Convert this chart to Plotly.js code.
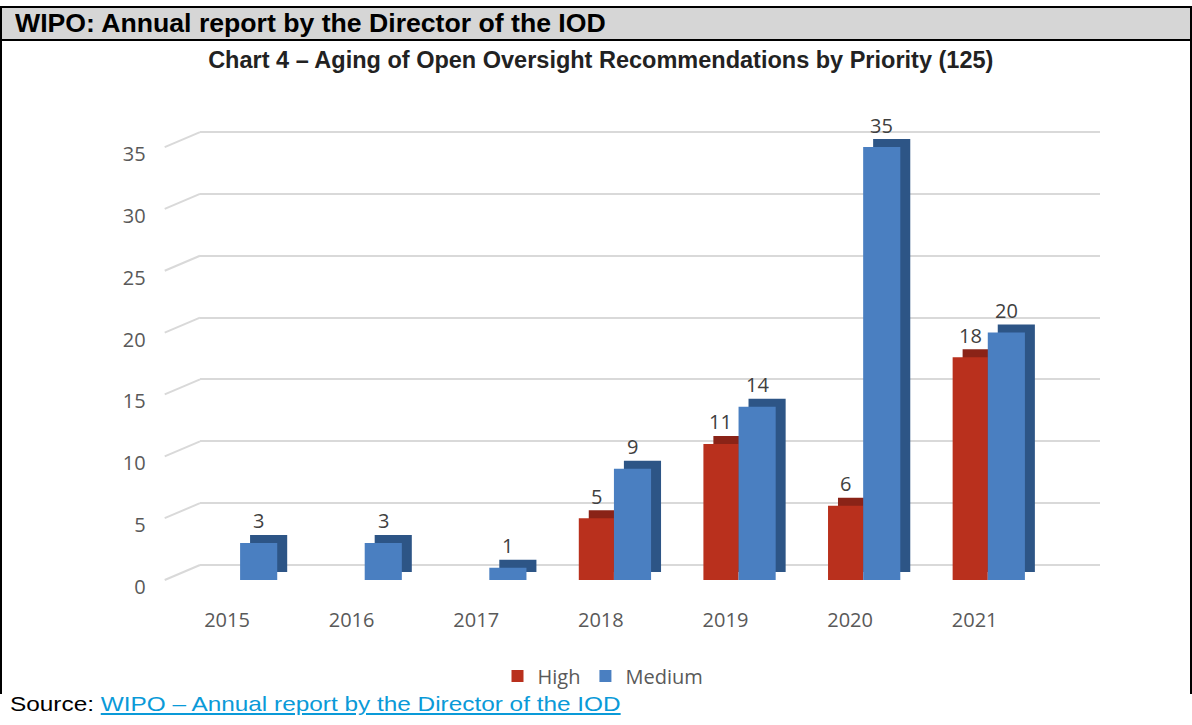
<!DOCTYPE html>
<html>
<head>
<meta charset="utf-8">
<script src="https://cdn.plot.ly/plotly-3.0.1.min.js"></script>
<style>
  html, body { margin:0; padding:0; background:#ffffff; }
  body { width:1192px; height:725px; position:relative; overflow:hidden; font-family:"Liberation Sans", Arial, sans-serif; }
  #chart { position:absolute; left:0; top:0; width:1192px; height:725px; }
  .blk { position:absolute; background:#000; }
  #hdrbg { position:absolute; left:2px; top:8px; width:1188px; height:31px; background:#d6d6d6; }
  #hdr { position:absolute; left:15px; top:11px; font-weight:bold; font-size:25px; line-height:1; color:#000; white-space:nowrap; transform-origin:left top; transform:scaleX(1.065); }
  #src { position:absolute; left:10px; top:693px; font-size:21px; line-height:1; color:#000; white-space:nowrap; transform-origin:left top; transform:scaleX(1.16); }
  #src a { color:#0a9ad8; text-decoration:underline; }
</style>
</head>
<body>
<div id="chart"></div>
<div id="hdrbg"></div>
<div class="blk" style="left:0;top:6px;width:1192px;height:2px;"></div>
<div class="blk" style="left:0;top:39px;width:1192px;height:2px;"></div>
<div class="blk" style="left:0;top:6px;width:2px;height:688px;"></div>
<div class="blk" style="left:1190px;top:6px;width:2px;height:688px;"></div>
<div id="hdr">WIPO: Annual report by the Director of the IOD</div>
<div id="src">Source: <a href="#">WIPO – Annual report by the Director of the IOD</a></div>
<script>
// ---- data ----
const years = ["2015", "2016", "2017", "2018", "2019", "2020", "2021"];
const high = [0, 0, 0, 5, 11, 6, 18];
const medium = [3, 3, 1, 9, 14, 35, 20];
const yTicks = [0, 5, 10, 15, 20, 25, 30, 35];
const chartTitle = "Chart 4 – Aging of Open Oversight Recommendations by Priority (125)";

// ---- style / geometry ----
const W = 1192, H = 725;
const pxPerUnit = 12.37;
const frontBottom = 580, backBottom = 565, plotTop = 100;
const frontLeft = 164.7, frontRight = 1037, backLeft = 200, backRight = 1100;
const depthX = 0.08;              // category units
const depthY = 8 / pxPerUnit;     // value units
const hiOff = -0.177, hiW = 0.282, mdOff = 0.105, mdW = 0.298;
const idx = years.map((_, i) => i);
const labelFont = { family: "Open Sans, sans-serif", size: 20, color: "#595959" };

const traces = [
  { type: "scatter", x: [null], y: [null], xaxis: "x", yaxis: "y", showlegend: false, hoverinfo: "skip" },
  { type: "bar", x: idx, y: high, base: depthY, offset: hiOff + depthX, width: hiW, xaxis: "x2", yaxis: "y2",
    marker: { color: "#8a2317" }, showlegend: false, hoverinfo: "skip" },
  { type: "bar", name: "High", x: idx, y: high, offset: hiOff, width: hiW, xaxis: "x2", yaxis: "y2",
    marker: { color: "#b9301d" } },
  { type: "bar", x: idx, y: medium, base: depthY, offset: mdOff + depthX, width: mdW, xaxis: "x2", yaxis: "y2",
    marker: { color: "#2d5586" }, showlegend: false, hoverinfo: "skip" },
  { type: "bar", name: "Medium", x: idx, y: medium, offset: mdOff, width: mdW, xaxis: "x2", yaxis: "y2",
    marker: { color: "#4a7fc1" } }
];

const annotations = [];
idx.forEach(i => {
  if (high[i] > 0) annotations.push({ x: i + hiOff + hiW / 2, y: high[i], xref: "x2", yref: "y2", text: String(high[i]),
    showarrow: false, yshift: 22, font: { family: "Open Sans, sans-serif", size: 20, color: "#404040" } });
  if (medium[i] > 0) annotations.push({ x: i + mdOff + mdW / 2, y: medium[i], xref: "x2", yref: "y2", text: String(medium[i]),
    showarrow: false, yshift: 22, font: { family: "Open Sans, sans-serif", size: 20, color: "#404040" } });
});

const shapes = yTicks.map(v => ({
  type: "line", xref: "paper", yref: "paper",
  x0: frontLeft / W, x1: backLeft / W,
  y0: (H - (frontBottom - v * pxPerUnit)) / H, y1: (H - (backBottom - v * pxPerUnit)) / H,
  line: { color: "#d9d9d9", width: 2 }, layer: "below"
}));

const layout = {
  width: W, height: H,
  margin: { l: 0, r: 0, t: 0, b: 0 },
  paper_bgcolor: "#ffffff", plot_bgcolor: "rgba(0,0,0,0)",
  barmode: "overlay",
  showlegend: true,
  title: { text: "<b>" + chartTitle + "</b>", x: 0.504, xanchor: "center", y: 1 - 60 / H, yanchor: "middle",
    font: { family: "Liberation Sans, Arial, sans-serif", size: 23.5, color: "#222222" } },
  xaxis: { domain: [backLeft / W, backRight / W], range: [0, 1], visible: false, fixedrange: true },
  yaxis: { domain: [(H - backBottom) / H, (H - plotTop) / H], range: [0, (backBottom - plotTop) / pxPerUnit],
    tickvals: yTicks, showticklabels: false, ticks: "", showgrid: true, gridcolor: "#d9d9d9", gridwidth: 2,
    zeroline: true, zerolinecolor: "#d9d9d9", zerolinewidth: 2, showline: false, fixedrange: true },
  xaxis2: { domain: [frontLeft / W, frontRight / W], range: [-0.5, 6.5], anchor: "y2",
    tickvals: idx, ticktext: years, ticks: "", showgrid: false, zeroline: false, showline: false,
    tickfont: labelFont, ticklabelstandoff: 26, fixedrange: true },
  yaxis2: { domain: [(H - frontBottom) / H, (H - plotTop) / H], range: [0, (frontBottom - plotTop) / pxPerUnit], anchor: "x2",
    tickvals: yTicks, ticks: "", showgrid: false, zeroline: false, showline: false,
    tickfont: labelFont, ticklabelshift: 7, ticklabelstandoff: 18, fixedrange: true },
  legend: { orientation: "h", x: 603 / W, xanchor: "center", y: (H - 676) / H, yanchor: "middle",
    font: labelFont, bgcolor: "rgba(0,0,0,0)" },
  annotations: annotations,
  shapes: shapes
};

Plotly.newPlot("chart", traces, layout, { displayModeBar: false, staticPlot: true });
</script>
</body>
</html>
